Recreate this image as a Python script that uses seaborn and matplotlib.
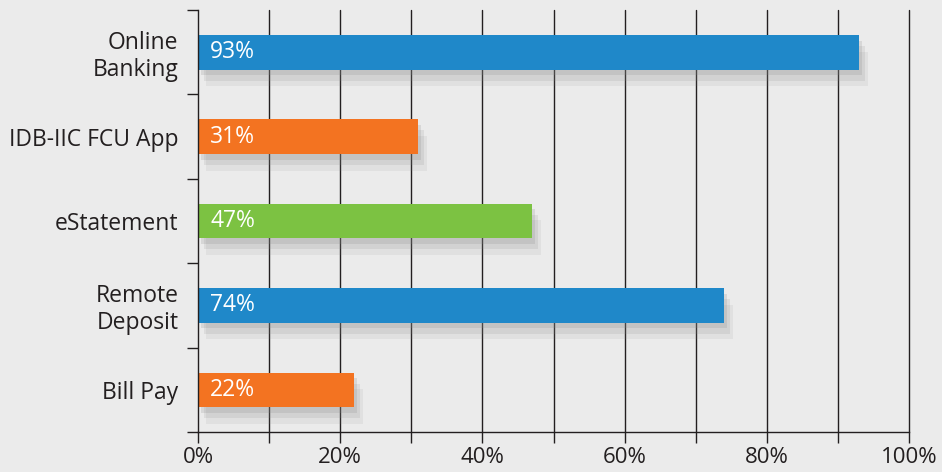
import matplotlib
matplotlib.use("Agg")
import matplotlib.pyplot as plt
import matplotlib.patheffects as pe
from matplotlib.ticker import MultipleLocator, FixedLocator
import seaborn as sns
import pandas as pd

categories = ["Online\nBanking", "IDB-IIC FCU App", "eStatement", "Remote\nDeposit", "Bill Pay"]
values = [93, 31, 47, 74, 22]
colors = ["#1f88c9", "#f37321", "#7cc242", "#1f88c9", "#f37321"]
x_ticks = [0, 20, 40, 60, 80, 100]
x_tick_labels = ["0%", "20%", "40%", "60%", "80%", "100%"]

sns.set_theme(style="white")
plt.rcParams["font.family"] = ["Open Sans", "DejaVu Sans"]

df = pd.DataFrame({"category": categories, "value": values})

fig = plt.figure(figsize=(9.42, 4.72), dpi=100, facecolor="#ebebeb")
ax = fig.add_axes([0.2102, 0.0847, 0.755, 0.894])
ax.set_facecolor("none")

sns.barplot(data=df, y="category", x="value", hue="category", palette=colors,
            legend=False, orient="h", width=0.41, ax=ax, saturation=1, linewidth=0)

for p in ax.patches:
    p.set_edgecolor("none")
    p.set_linewidth(0)
    p.set_path_effects([
        pe.SimplePatchShadow(offset=(6, -12), shadow_rgbFace="#888888", alpha=0.10),
        pe.SimplePatchShadow(offset=(4, -8), shadow_rgbFace="#888888", alpha=0.15),
        pe.SimplePatchShadow(offset=(2, -4), shadow_rgbFace="#888888", alpha=0.2),
        pe.Normal()])

for i, v in enumerate(values):
    ax.text(1.7, i, f"{v}%", color="white", va="center", ha="left", fontsize=16.5)

ax.set_xlim(0, 100)
ax.set_ylim(4.5, -0.5)
ax.set_xticks(x_ticks)
ax.set_xticklabels(x_tick_labels, fontsize=16, color="#231f20")
ax.xaxis.set_minor_locator(MultipleLocator(10))
ax.tick_params(axis="x", which="both", direction="out", length=8, width=1, color="#231f20",
               bottom=True, pad=3)
ax.yaxis.set_minor_locator(FixedLocator([-0.5, 0.5, 1.5, 2.5, 3.5, 4.5]))
ax.tick_params(axis="y", which="major", length=0, pad=14, labelsize=16.5, labelcolor="#231f20")
ax.tick_params(axis="y", which="minor", direction="out", length=8, width=1, color="#231f20", left=True)
for lbl in ax.get_yticklabels():
    lbl.set_multialignment("right")
    lbl.set_linespacing(1.15)

ax.set_xlabel("")
ax.set_ylabel("")
for xv in range(10, 101, 10):
    ax.axvline(xv, color="#231f20", linewidth=1, zorder=0, clip_on=False)

ax.spines["top"].set_visible(False)
ax.spines["right"].set_visible(False)
for s in ["left", "bottom"]:
    ax.spines[s].set_color("#231f20")
    ax.spines[s].set_linewidth(1)

fig.savefig("out.png", dpi=100, facecolor=fig.get_facecolor())
